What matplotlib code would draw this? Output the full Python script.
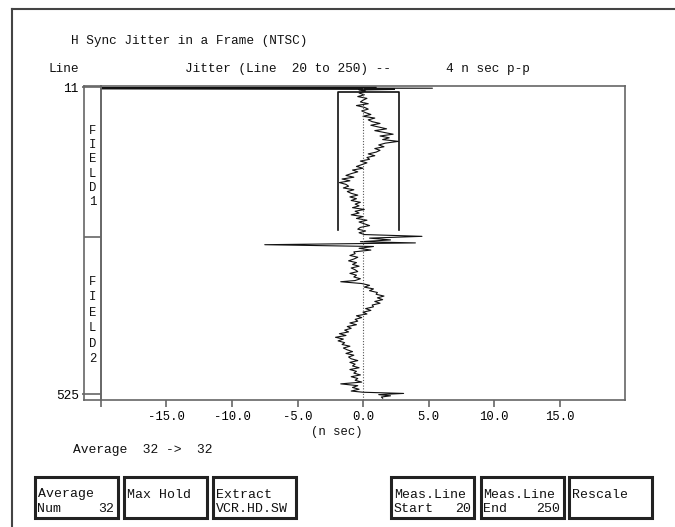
#!/usr/bin/env python3
"""
H sync jitter across one NTSC frame, drawn like a waveform-analyser screen.
Saves: out.png
"""

import matplotlib.pyplot as plt
from matplotlib.patches import Rectangle
from matplotlib.lines import Line2D

OUT_PATH = "out.png"
W, H = 675, 527

plt.rcParams["font.family"] = ["Liberation Mono", "DejaVu Sans Mono"]
plt.rcParams["axes.unicode_minus"] = False

BOX_COLOR = "#666666"
INK = "#111111"
TXT = 9.2

# ── data ────────────────────────────────────────────────────────────────
# top of the frame: VBI lines, trace swings off-scale to the left
TOP_LINES = [11, 12, 13, 14, 15, 16]
TOP_JITTER = [1.0, -24.0, 5.3, -24.0, 2.4, -0.3]

# field 1 body
FIELD1_LINES = list(range(18, 259, 3))
FIELD1_JITTER = [
    0.2, -0.3, 0.1, -0.4, 0.3, 0.0, -0.2, 0.4, -0.5, 0.1,
    0.4, -0.1, 0.2, 0.6, 0.0, 0.9, 0.4, 0.7, 1.3, 0.6,
    1.2, 1.8, 0.9, 1.6, 2.3, 1.3, 2.0, 1.5, 2.7, 1.7,
    1.2, 1.6, 0.9, 1.3, 1.0, 0.4, 0.9, 0.3, 0.5, -0.2,
    0.3, -0.1, -0.5, 0.0, -0.8, -0.4, -0.9, -1.3, -0.7, -1.6,
    -1.0, -1.8, -1.3, -1.1, -1.5, -0.7, -1.2, -0.9, -0.4, -1.0,
    -0.5, -0.9, -0.2, -0.6, -0.3, -0.8, 0.1, -0.6, -0.3, -0.9,
    0.0, -0.5, 0.3, -0.3, 0.1, 0.5, -0.2, -0.4, 0.2, -0.3,
    0.1,
]

# field change-over: spikes
SPLIT_LINES = [261, 264, 267, 270, 272, 275, 278, 281, 284, 287]
SPLIT_JITTER = [4.5, 0.5, 2.1, -0.2, 4.0, -7.5, 0.8, -0.3, 0.6, -0.7]

# field 2 body and bottom of the frame
FIELD2_LINES = (list(range(290, 336, 3)) + [337] + list(range(340, 521, 3))
                + [522, 524, 526, 528, 530, 532])
FIELD2_JITTER = [
    -0.6, -1.0, -0.4, -0.7, -1.1, -0.5, -0.8, -0.3, -0.9, -0.6,
    -0.4, -1.0, -0.5, -0.7, -0.2, -0.6,
    -1.7,
    -0.1, 0.5, 0.1, 0.8, 0.5, 1.1, 1.0, 1.6, 1.1, 1.5,
    0.9, 1.3, 0.7, 0.8, 0.2, 0.6, 0.0, 0.3, -0.5, -0.1,
    -0.6, -0.4, -1.0, -0.5, -1.2, -0.9, -1.4, -1.1, -1.8, -1.3,
    -2.1, -1.5, -1.9, -1.4, -1.6, -1.0, -1.5, -1.2, -0.8, -1.3,
    -0.7, -1.1, -0.9, -0.4, -1.0, -0.6, -0.8, -0.3, -1.0, -0.5,
    -0.7, -0.2, -0.9, -0.4, -0.6, -0.1, -1.7, -0.4, -0.8, -0.3,
    -0.9,
    0.0, 3.1, 1.2, 2.1, 1.4, 1.5,
]

# measurement window (lines 20..250, p-p bracket)
MEAS_START, MEAS_END = 20, 250
MEAS_MIN, MEAS_MAX = -1.9, 2.75

X_TICKS = [-20, -15, -10, -5, 0, 5, 10, 15]
X_TICK_LABELS = ["", "-15.0", "-10.0", "-5.0", "0.0", "5.0", "10.0", "15.0"]
Y_TICKS = [11, 525]
FIELD_SPLIT = 262.5
FIELD1_LETTERS = list("FIELD1")
FIELD2_LETTERS = list("FIELD2")
FIELD1_LETTER_LINES = [84, 108, 132, 156, 180, 204]
FIELD2_LETTER_LINES = [337, 363, 389, 415, 441, 467]

BUTTONS = [
    ("Average", "Num", "32"),
    ("Max Hold", "", ""),
    ("Extract", "VCR.HD.SW", ""),
    ("Meas.Line", "Start", "20"),
    ("Meas.Line", "End", "250"),
    ("Rescale", "", ""),
]
BUTTON_LEFT = [34.5, 124, 213, 391, 480.5, 569]


def fx(px):
    return px / W


def fy(py):
    return 1 - py / H


def ftext(fig, px, py, s, size=TXT, **kw):
    fig.text(fx(px), fy(py), s, fontsize=size, color=INK, va="center", **kw)


def main():
    fig = plt.figure(figsize=(W / 100, H / 100), dpi=100, facecolor="white")

    # outer screen frame
    fig.add_artist(Line2D([fx(12), fx(12)], [fy(9), 0], color="#444", lw=1.5))
    fig.add_artist(Line2D([fx(12), 1], [fy(9), fy(9)], color="#444", lw=1.5))

    # ── main plot ──────────────────────────────────────────────────────
    ax = fig.add_axes([fx(101), fy(400), 524 / W, 314 / H])
    ax.set_xlim(-20, 20)
    ax.set_ylim(535, 9.3)
    for sp in ax.spines.values():
        sp.set_color(BOX_COLOR)
        sp.set_linewidth(1.2)

    lines = TOP_LINES + FIELD1_LINES + SPLIT_LINES + FIELD2_LINES
    jitter = TOP_JITTER + FIELD1_JITTER + SPLIT_JITTER + FIELD2_JITTER
    ax.plot(jitter, lines, color=INK, lw=0.8)

    ax.axvline(0, color="#555", lw=0.8, ls=(0, (1, 1.5)))
    ax.plot([MEAS_MIN, MEAS_MIN, MEAS_MAX, MEAS_MAX],
            [MEAS_END, MEAS_START, MEAS_START, MEAS_END], color=INK, lw=1.2)

    ax.set_xticks(X_TICKS)
    ax.set_xticklabels(X_TICK_LABELS)
    ax.set_yticks(Y_TICKS)
    ax.set_yticklabels([str(v) for v in Y_TICKS])
    ax.tick_params(axis="x", length=4.7, width=1.2, color=BOX_COLOR,
                   pad=3.5, labelsize=8.8)
    ax.tick_params(axis="y", length=13.5, width=1.2, color=BOX_COLOR,
                   pad=2.5, labelsize=TXT)

    # ── field column ───────────────────────────────────────────────────
    fax = fig.add_axes([fx(84), fy(400), 17 / W, 314 / H])
    fax.set_facecolor("none")
    fax.set_xlim(0, 1)
    fax.set_ylim(535, 9.3)
    fax.set_xticks([])
    fax.set_yticks([])
    for sp in fax.spines.values():
        sp.set_color(BOX_COLOR)
        sp.set_linewidth(1.2)
    fax.axhline(FIELD_SPLIT, color=BOX_COLOR, lw=1.2)
    for ch, ln in zip(FIELD1_LETTERS + FIELD2_LETTERS,
                      FIELD1_LETTER_LINES + FIELD2_LETTER_LINES):
        fax.text(0.5, ln, ch, ha="center", va="center", fontsize=8.8, color=INK)

    # ── header texts ───────────────────────────────────────────────────
    ftext(fig, 71, 41, "H Sync Jitter in a Frame (NTSC)")
    ftext(fig, 49, 69, "Line")
    ftext(fig, 185, 69, "Jitter (Line  20 to 250) --")
    ftext(fig, 446, 69, "4 n sec p-p")

    ftext(fig, 311, 432, "(n sec)", size=8.8)
    ftext(fig, 73, 450, "Average  32 ->  32", size=9.4)

    # ── soft-key buttons ───────────────────────────────────────────────
    bw, top, bh = 83, 476.5, 41
    for (l1, l2, val), x0 in zip(BUTTONS, BUTTON_LEFT):
        fig.add_artist(Rectangle((fx(x0), fy(top + bh)), bw / W, bh / H,
                                 transform=fig.transFigure, fill=False,
                                 ec="#222", lw=2.2))
        ftext(fig, x0 + 3, 494.5, l1, size=9.5)
        if l2:
            ftext(fig, x0 + 3, 509.5, l2, size=9.5)
        if val:
            ftext(fig, x0 + bw - 3, 509.5, val, size=9.5, ha="right")

    fig.savefig(OUT_PATH, dpi=100, facecolor="white")
    print(f"Saved: {OUT_PATH}")
    plt.close(fig)


if __name__ == "__main__":
    main()
